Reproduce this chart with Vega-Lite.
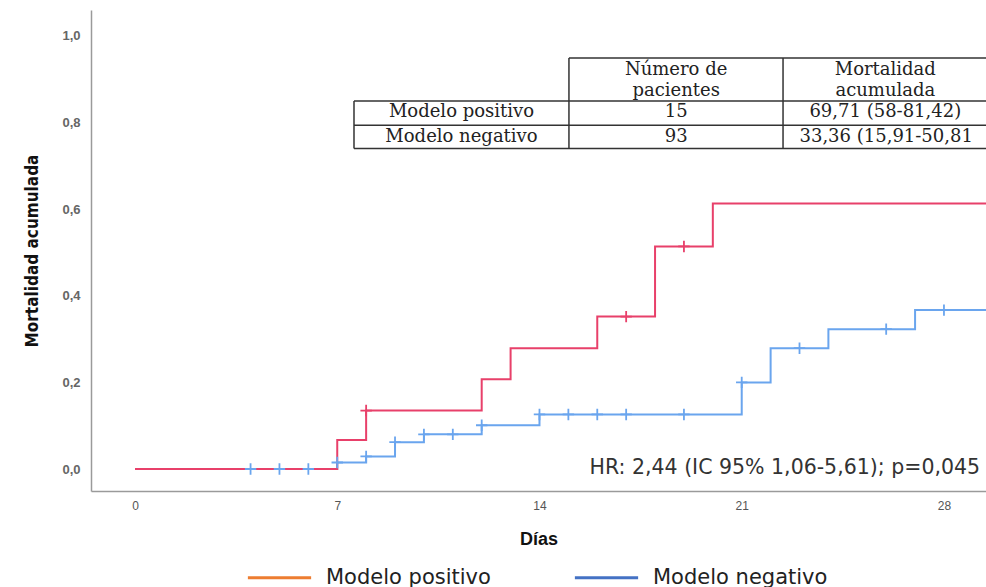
{
  "$schema": "https://vega.github.io/schema/vega-lite/v6.json",
  "width": 895,
  "height": 481,
  "autosize": {"type": "none"},
  "padding": {"left": 91, "top": 10, "right": 0, "bottom": 96},
  "background": "white",
  "config": {
    "view": {"stroke": null},
    "locale": {"number": {"decimal": ",", "thousands": ".", "grouping": [3], "currency": ["", " €"]}},
    "axis": {"grid": false, "ticks": false, "domainColor": "#9a9a9a", "domainWidth": 1.5}
  },
  "datasets": {
    "curvas": [
      {"grupo": "Modelo positivo", "dia": 0, "valor": 0},
      {"grupo": "Modelo positivo", "dia": 7, "valor": 0.067},
      {"grupo": "Modelo positivo", "dia": 8, "valor": 0.135},
      {"grupo": "Modelo positivo", "dia": 12, "valor": 0.207},
      {"grupo": "Modelo positivo", "dia": 13, "valor": 0.279},
      {"grupo": "Modelo positivo", "dia": 16, "valor": 0.352},
      {"grupo": "Modelo positivo", "dia": 18, "valor": 0.514},
      {"grupo": "Modelo positivo", "dia": 20, "valor": 0.613},
      {"grupo": "Modelo positivo", "dia": 29.6, "valor": 0.613},
      {"grupo": "Modelo negativo", "dia": 0, "valor": 0},
      {"grupo": "Modelo negativo", "dia": 7, "valor": 0.015},
      {"grupo": "Modelo negativo", "dia": 8, "valor": 0.029},
      {"grupo": "Modelo negativo", "dia": 9, "valor": 0.062},
      {"grupo": "Modelo negativo", "dia": 10, "valor": 0.08},
      {"grupo": "Modelo negativo", "dia": 12, "valor": 0.101},
      {"grupo": "Modelo negativo", "dia": 14, "valor": 0.126},
      {"grupo": "Modelo negativo", "dia": 21, "valor": 0.2},
      {"grupo": "Modelo negativo", "dia": 22, "valor": 0.279},
      {"grupo": "Modelo negativo", "dia": 24, "valor": 0.323},
      {"grupo": "Modelo negativo", "dia": 27, "valor": 0.367},
      {"grupo": "Modelo negativo", "dia": 29.6, "valor": 0.367}
    ],
    "censuras": [
      {"grupo": "Modelo positivo", "dia": 8, "valor": 0.135},
      {"grupo": "Modelo positivo", "dia": 17, "valor": 0.352},
      {"grupo": "Modelo positivo", "dia": 19, "valor": 0.514},
      {"grupo": "Modelo negativo", "dia": 4, "valor": 0},
      {"grupo": "Modelo negativo", "dia": 5, "valor": 0},
      {"grupo": "Modelo negativo", "dia": 6, "valor": 0},
      {"grupo": "Modelo negativo", "dia": 7, "valor": 0.015},
      {"grupo": "Modelo negativo", "dia": 8, "valor": 0.029},
      {"grupo": "Modelo negativo", "dia": 9, "valor": 0.062},
      {"grupo": "Modelo negativo", "dia": 10, "valor": 0.08},
      {"grupo": "Modelo negativo", "dia": 11, "valor": 0.08},
      {"grupo": "Modelo negativo", "dia": 12, "valor": 0.101},
      {"grupo": "Modelo negativo", "dia": 14, "valor": 0.126},
      {"grupo": "Modelo negativo", "dia": 15, "valor": 0.126},
      {"grupo": "Modelo negativo", "dia": 16, "valor": 0.126},
      {"grupo": "Modelo negativo", "dia": 17, "valor": 0.126},
      {"grupo": "Modelo negativo", "dia": 19, "valor": 0.126},
      {"grupo": "Modelo negativo", "dia": 21, "valor": 0.2},
      {"grupo": "Modelo negativo", "dia": 23, "valor": 0.279},
      {"grupo": "Modelo negativo", "dia": 26, "valor": 0.323},
      {"grupo": "Modelo negativo", "dia": 28, "valor": 0.367}
    ],
    "tabla_lineas": [
      {"dia": 15.02, "dia2": 29.455, "valor": 0.949, "valor2": 0.949},
      {"dia": 7.58, "dia2": 29.455, "valor": 0.85, "valor2": 0.85},
      {"dia": 7.58, "dia2": 29.455, "valor": 0.794, "valor2": 0.794},
      {"dia": 7.58, "dia2": 29.455, "valor": 0.74, "valor2": 0.74},
      {"dia": 7.58, "dia2": 7.58, "valor": 0.85, "valor2": 0.74},
      {"dia": 15.02, "dia2": 15.02, "valor": 0.949, "valor2": 0.74},
      {"dia": 22.43, "dia2": 22.43, "valor": 0.949, "valor2": 0.74}
    ],
    "tabla_texto": [
      {"dia": 18.73, "valor": 0.922, "texto": "Número de"},
      {"dia": 18.73, "valor": 0.873, "texto": "pacientes"},
      {"dia": 25.97, "valor": 0.922, "texto": "Mortalidad"},
      {"dia": 25.97, "valor": 0.873, "texto": "acumulada"},
      {"dia": 11.3, "valor": 0.8245, "texto": "Modelo positivo"},
      {"dia": 18.73, "valor": 0.8245, "texto": "15"},
      {"dia": 25.97, "valor": 0.8245, "texto": "69,71 (58-81,42)"},
      {"dia": 11.3, "valor": 0.767, "texto": "Modelo negativo"},
      {"dia": 18.73, "valor": 0.767, "texto": "93"},
      {"dia": 26.0, "valor": 0.767, "texto": "33,36 (15,91-50,81"}
    ],
    "anotacion": [
      {"dia": 29.25, "valor": 0.003, "texto": "HR: 2,44 (IC 95% 1,06-5,61); p=0,045"}
    ]
  },
  "layer": [
    {
      "data": {"name": "curvas"},
      "mark": {"type": "line", "opacity": 0, "interpolate": "step-after", "clip": true},
      "encoding": {
        "x": {
          "field": "dia", "type": "quantitative",
          "scale": {"domain": [-1.523, 29.455], "nice": false, "zero": false},
          "axis": {
            "values": [0, 7, 14, 21, 28], "title": "Días",
            "labelFont": "Liberation Sans", "labelFontSize": 12, "labelColor": "#555", "labelPadding": 9,
            "titleFont": "Liberation Sans", "titleFontSize": 18, "titleFontWeight": "bold", "titleColor": "#111", "titlePadding": 19
          }
        },
        "y": {
          "field": "valor", "type": "quantitative",
          "scale": {"domain": [-0.0508, 1.06], "nice": false, "zero": false},
          "axis": {
            "values": [0, 0.2, 0.4, 0.6, 0.8, 1.0], "format": ".1f", "title": "Mortalidad acumulada",
            "labelFont": "Liberation Sans", "labelFontSize": 13, "labelFontWeight": "bold", "labelColor": "#666", "labelPadding": 11,
            "titleFont": "Liberation Sans Narrow, DejaVu Sans Condensed, Liberation Sans, sans-serif", "titleFontSize": 17, "titleFontWeight": "bold", "titleColor": "#111", "titlePadding": 20
          }
        },
        "color": {
          "field": "grupo", "type": "nominal",
          "scale": {"domain": ["Modelo positivo", "Modelo negativo"], "range": ["#ed7d31", "#4472c4"]},
          "legend": {
            "title": null, "orient": "none", "legendX": 155, "legendY": 534, "direction": "horizontal",
            "symbolType": "stroke", "symbolSize": 4000, "symbolStrokeWidth": 3, "symbolOpacity": 1,
            "labelFont": "DejaVu Sans", "labelFontSize": 21, "labelColor": "#222", "labelOffset": 13,
            "columnPadding": 77, "labelLimit": 400
          }
        }
      }
    },
    {
      "data": {"name": "curvas"},
      "transform": [{"filter": "datum.grupo === 'Modelo negativo'"}],
      "mark": {"type": "line", "interpolate": "step-after", "strokeWidth": 2, "clip": true},
      "encoding": {
        "x": {"field": "dia", "type": "quantitative"},
        "y": {"field": "valor", "type": "quantitative"},
        "stroke": {
          "field": "grupo", "type": "nominal",
          "scale": {"domain": ["Modelo positivo", "Modelo negativo"], "range": ["#e8406a", "#6aa5ee"]},
          "legend": null
        }
      }
    },
    {
      "data": {"name": "curvas"},
      "transform": [{"filter": "datum.grupo === 'Modelo positivo'"}],
      "mark": {"type": "line", "interpolate": "step-after", "strokeWidth": 2, "clip": true},
      "encoding": {
        "x": {"field": "dia", "type": "quantitative"},
        "y": {"field": "valor", "type": "quantitative"},
        "stroke": {"field": "grupo", "type": "nominal", "legend": null}
      }
    },
    {
      "data": {"name": "censuras"},
      "mark": {"type": "point", "shape": "M-1,0L1,0M0,-1L0,1", "filled": false, "size": 130, "strokeWidth": 1.8, "opacity": 1},
      "encoding": {
        "x": {"field": "dia", "type": "quantitative"},
        "y": {"field": "valor", "type": "quantitative"},
        "stroke": {"field": "grupo", "type": "nominal", "legend": null}
      }
    },
    {
      "data": {"name": "anotacion"},
      "mark": {"type": "text", "align": "right", "baseline": "middle", "font": "DejaVu Sans", "fontSize": 20.5, "color": "#333"},
      "encoding": {
        "x": {"field": "dia", "type": "quantitative"},
        "y": {"field": "valor", "type": "quantitative"},
        "text": {"field": "texto"}
      }
    },
    {
      "data": {"name": "tabla_lineas"},
      "mark": {"type": "rule", "color": "#333", "strokeWidth": 1.5},
      "encoding": {
        "x": {"field": "dia", "type": "quantitative"},
        "x2": {"field": "dia2"},
        "y": {"field": "valor", "type": "quantitative"},
        "y2": {"field": "valor2"}
      }
    },
    {
      "data": {"name": "tabla_texto"},
      "mark": {"type": "text", "align": "center", "baseline": "middle", "font": "DejaVu Serif", "fontSize": 18, "color": "#222"},
      "encoding": {
        "x": {"field": "dia", "type": "quantitative"},
        "y": {"field": "valor", "type": "quantitative"},
        "text": {"field": "texto"}
      }
    }
  ]
}
